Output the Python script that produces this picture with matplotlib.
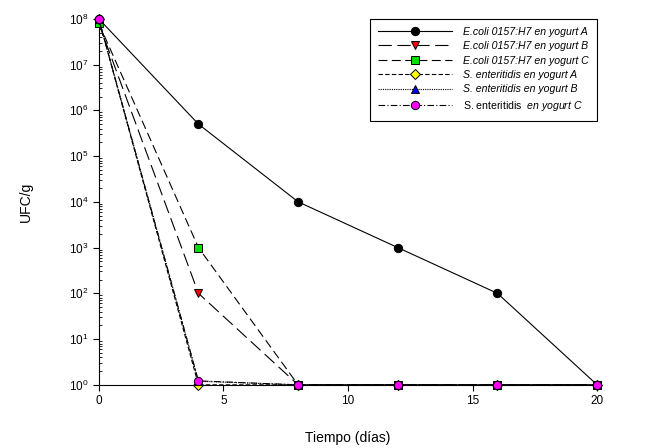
import matplotlib
matplotlib.use("Agg")
import matplotlib.pyplot as plt
import numpy as np

plt.rcParams['font.family'] = ['Liberation Sans', 'DejaVu Sans']
plt.rcParams['mathtext.fontset'] = 'custom'
plt.rcParams['mathtext.rm'] = 'Liberation Sans'
plt.rcParams['mathtext.it'] = 'Liberation Sans:italic'

dias = [0, 4, 8, 12, 16, 20]
ecoli_a = [1e8, 5e5, 1e4, 1e3, 1e2, 1]
ecoli_b = [8e7, 1e2, 1, 1, 1, 1]
ecoli_c = [8e7, 1e3, 1, 1, 1, 1]
sent_a = [1e8, 1, 1, 1, 1, 1]
sent_b = [1e8, 1.2, 1, 1, 1, 1]
sent_c = [1e8, 1.22, 1, 1, 1, 1]

labels = [
    "E.coli 0157:H7 en yogurt A",
    "E.coli 0157:H7 en yogurt B",
    "E.coli 0157:H7 en yogurt C",
    "S. enteritidis en yogurt A",
    "S. enteritidis en yogurt B",
    "S. enteritidis  $\\it{en\\ yogurt\\ C}$",
]

fig = plt.figure(figsize=(6.54, 4.48), dpi=100)
ax = fig.add_axes([0.151, 0.141, 0.762, 0.817])

series = [ecoli_a, ecoli_b, ecoli_c, sent_a, sent_b, sent_c]
styles = [
    dict(ls='-', marker='o', mfc='black'),
    dict(ls=(0, (12, 5)), marker='v', mfc='red'),
    dict(ls=(0, (8, 4)), marker='s', mfc='#00e000', ms=5.5),
    dict(ls=(0, (4, 2)), marker='D', mfc='yellow', ms=5),
    dict(ls=(0, (1, 1)), marker='^', mfc='blue'),
    dict(ls=(0, (6, 2, 1, 2)), marker='o', mfc='magenta'),
]
for y, st, lab in zip(series, styles, labels):
    st = dict(st)
    ms = st.pop('ms', 6)
    ax.plot(dias, y, color='black', lw=0.8, mec='black', mew=0.7, ms=ms,
            label=lab, clip_on=False, zorder=3, **st)

ax.set_yscale('log')
ax.set_ylim(1, 1e8)
ax.set_xlim(0, 20)
ax.set_xticks([0, 5, 10, 15, 20])
ax.set_yticks([10.0**k for k in range(9)])
ax.spines['top'].set_visible(False)
ax.spines['right'].set_visible(False)
ax.tick_params(which='major', direction='out', length=4, labelsize=8.5)
ax.tick_params(which='minor', direction='in', length=2)
ax.tick_params(axis='x', which='minor', bottom=False)
ax.set_xlabel("Tiempo (días)", fontsize=10, labelpad=17)
ax.set_ylabel("UFC/g", fontsize=10, labelpad=26)

leg = ax.legend(loc='upper right', fontsize=7.6, handlelength=7.0, frameon=True,
                fancybox=False, edgecolor='black', framealpha=1,
                borderaxespad=0, labelspacing=0.42, handletextpad=1.1,
                borderpad=0.75, bbox_to_anchor=(1.0, 1.0))
leg.get_frame().set_linewidth(0.8)
for t in leg.get_texts()[:5]:
    t.set_fontstyle('italic')

fig.savefig("out.png", dpi=100)
